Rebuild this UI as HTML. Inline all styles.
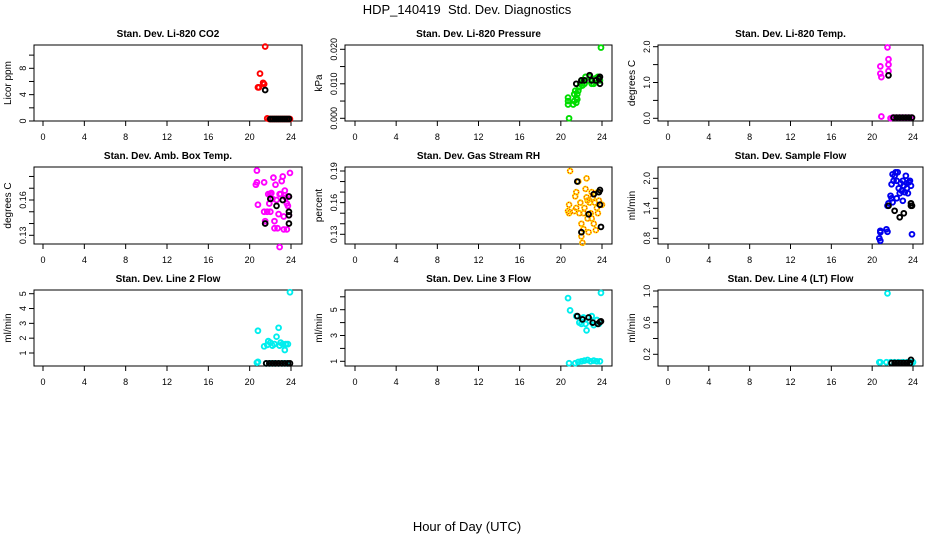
<!DOCTYPE html>
<html><head><meta charset="utf-8"><style>
body{margin:0;background:#fff;}
svg{display:block;font-family:"Liberation Sans",Arial,sans-serif;}
</style></head><body>
<svg id="c" width="936" height="540" xmlns="http://www.w3.org/2000/svg">
<text x="467" y="14" text-anchor="middle" font-size="13">HDP_140419&#160; Std. Dev. Diagnostics</text>
<text x="467" y="531" text-anchor="middle" font-size="13">Hour of Day (UTC)</text>
</svg>
<script>
// ---- data (hour, value) ----
const co2X=[20.8,20.9,21.0,21.3,21.4,21.5,21.7,21.9,22.1,22.3,22.5,22.7,22.9,23.1,23.3,23.5,23.7,23.9];
const co2Y=[5.1,5.1,7.2,5.8,5.6,11.3,0.4,0.3,0.3,0.3,0.3,0.3,0.3,0.3,0.3,0.3,0.3,0.3];
const co2BX=[21.5,22.0,22.2,22.4,22.6,22.8,23.0,23.2,23.4,23.6,23.8];
const co2BY=[4.7,0.3,0.3,0.3,0.3,0.3,0.3,0.3,0.3,0.3,0.3];

const prX=[20.7,20.7,20.7,20.8,21.2,21.3,21.3,21.4,21.5,21.6,21.7,21.8,21.9,22.0,22.2,22.4,22.6,22.8,23.0,23.2,23.4,23.6,23.8,23.9,21.5,21.6,22.1,22.3,23.0,23.3];
const prY=[0.006,0.005,0.004,0.000,0.004,0.005,0.007,0.008,0.006,0.007,0.008,0.009,0.010,0.011,0.011,0.012,0.011,0.012,0.011,0.010,0.011,0.012,0.011,0.0205,0.0045,0.0055,0.0095,0.010,0.010,0.0115];
const prBX=[21.5,22.0,22.3,22.8,23.0,23.4,23.7,23.8,23.8];
const prBY=[0.010,0.011,0.011,0.0125,0.011,0.011,0.0115,0.010,0.012];

const tpX=[20.8,20.8,20.9,20.9,21.5,21.6,21.6,21.6,21.8,22.0,22.3,22.6,22.9,23.2,23.5,23.8];
const tpY=[1.45,1.25,1.15,0.05,1.98,1.65,1.5,1.32,0.0,0.02,0.02,0.02,0.02,0.02,0.02,0.02];
const tpBX=[21.6,22.1,22.4,22.7,23.0,23.3,23.6,23.9];
const tpBY=[1.2,0.02,0.02,0.02,0.02,0.02,0.02,0.02];

const abX=[20.7,20.6,20.7,20.8,21.4,21.4,21.5,21.8,21.9,22.0,22.1,22.2,22.3,22.4,22.4,22.5,22.6,22.7,22.8,22.9,23.0,23.1,23.2,23.3,23.3,23.4,23.5,23.6,23.6,23.7,23.8,23.9,23.7,22.9,22.0,21.7];
const abY=[0.185,0.173,0.175,0.156,0.175,0.150,0.142,0.165,0.157,0.150,0.166,0.161,0.179,0.142,0.136,0.173,0.160,0.136,0.148,0.120,0.165,0.176,0.180,0.146,0.135,0.168,0.162,0.135,0.157,0.155,0.147,0.183,0.163,0.165,0.165,0.150];
const abBX=[21.5,22.0,22.6,23.2,23.8,23.8,23.8,23.8];
const abBY=[0.140,0.161,0.155,0.160,0.163,0.150,0.147,0.140];

const rhX=[20.9,20.7,20.8,20.8,21.4,21.5,21.5,21.7,21.8,22.0,22.0,22.1,22.2,22.3,22.4,22.5,22.6,22.6,22.7,22.8,22.9,23.0,23.1,23.2,23.3,23.4,23.5,23.6,23.7,24.0,21.9,22.2,23.0,23.6,21.3,22.5];
const rhY=[0.190,0.152,0.158,0.150,0.166,0.170,0.155,0.180,0.150,0.140,0.128,0.122,0.135,0.155,0.173,0.183,0.162,0.145,0.132,0.160,0.150,0.145,0.165,0.140,0.160,0.134,0.155,0.170,0.162,0.158,0.160,0.150,0.170,0.150,0.152,0.165];
const rhBX=[21.6,22.0,22.7,23.2,23.7,23.8,23.8,23.9];
const rhBY=[0.180,0.132,0.149,0.168,0.170,0.172,0.158,0.137];

const sfX=[20.7,20.8,20.8,20.8,21.4,21.5,21.5,21.6,21.8,21.9,22.0,21.9,22.0,22.2,22.3,22.4,22.5,22.6,22.7,22.8,22.9,23.0,23.1,23.2,23.3,23.4,23.5,23.6,23.7,23.8,23.9,22.1,22.4,23.0,23.4];
const sfY=[0.80,0.75,0.92,0.95,0.98,0.93,1.45,1.50,1.65,1.60,1.52,1.88,2.08,2.05,2.12,1.95,2.12,1.80,1.70,1.90,1.75,1.55,1.85,1.72,2.05,1.80,1.70,1.92,1.95,1.85,0.88,1.95,1.60,1.95,1.90];
const sfBX=[21.6,22.2,22.7,23.1,23.8,23.8,23.9];
const sfBY=[1.45,1.35,1.22,1.30,1.45,1.50,1.45];

const l2X=[20.7,20.8,20.8,21.4,21.7,21.8,22.0,22.2,22.4,22.6,22.8,22.9,23.0,23.2,23.4,23.5,23.7,23.9,21.6,22.0,22.4,22.8,23.2,23.6];
const l2Y=[0.35,0.4,2.5,1.45,1.55,1.8,1.7,1.5,1.6,2.1,2.7,1.5,1.7,1.6,1.2,1.6,1.6,5.1,0.3,0.3,0.3,0.3,0.3,0.3];
const l2BX=[21.6,21.9,22.2,22.5,22.8,23.1,23.4,23.7,23.9];
const l2BY=[0.3,0.3,0.3,0.3,0.3,0.3,0.3,0.3,0.3];

const l3X=[20.7,20.9,20.8,21.4,21.5,21.8,22.0,22.2,22.4,22.5,22.8,23.0,23.2,23.5,23.7,23.9,21.7,22.0,22.3,22.6,22.9,23.2,23.5,23.8];
const l3Y=[5.9,4.95,0.85,0.85,4.5,4.0,3.9,4.4,3.9,3.4,4.1,4.5,3.8,4.2,3.9,6.3,0.95,1.0,1.05,1.1,1.0,1.05,1.0,1.0];
const l3BX=[21.6,22.1,22.7,23.1,23.6,23.8,23.9];
const l3BY=[4.5,4.25,4.4,4.0,3.9,4.05,4.1];

const l4X=[20.7,20.8,21.5,21.4,21.8,22.2,22.6,23.0,23.4,23.8,24.0];
const l4Y=[0.10,0.10,0.97,0.10,0.10,0.10,0.10,0.10,0.10,0.10,0.10];
const l4BX=[21.9,22.2,22.5,22.8,23.1,23.4,23.7,23.8];
const l4BY=[0.09,0.09,0.09,0.09,0.09,0.09,0.09,0.13];

const xTickVals=[0,4,8,12,16,20,24];

// ---- layout ----
const NS="http://www.w3.org/2000/svg";
const svg=document.getElementById('c');
function el(t,a,p){const e=document.createElementNS(NS,t);for(const k in a)e.setAttribute(k,a[k]);(p||svg).appendChild(e);return e;}
const cols=[{l:34,r:302,x0:43,x24:291},{l:345,r:612,x0:355,x24:602},{l:658,r:923,x0:668,x24:913}];
const rows=[{t:45,b:121},{t:167,b:244},{t:290,b:366}];

const panels=[
 {name:'co2',title:'Stan. Dev. Li-820 CO2',yl:'Licor ppm',c:0,r:0,v1:0,p1:121,v2:8,p2:68.3,ticks:[0,2,4,6,8,10],labs:[0,4,8],fmt:v=>String(v),col:'#ff0000',X:co2X,Y:co2Y,BX:co2BX,BY:co2BY},
 {name:'pressure',title:'Stan. Dev. Li-820 Pressure',yl:'kPa',c:1,r:0,v1:0,p1:118.3,v2:0.02,p2:49.3,ticks:[0,0.005,0.01,0.015,0.02],labs:[0,0.01,0.02],fmt:v=>v.toFixed(3),col:'#00dd00',X:prX,Y:prY,BX:prBX,BY:prBY},
 {name:'temp',title:'Stan. Dev. Li-820 Temp.',yl:'degrees C',c:2,r:0,v1:0,p1:118.3,v2:2,p2:46.7,ticks:[0,0.5,1,1.5,2],labs:[0,1,2],fmt:v=>v.toFixed(1),col:'#ff00ff',X:tpX,Y:tpY,BX:tpBX,BY:tpBY},
 {name:'amb-box-temp',title:'Stan. Dev. Amb. Box Temp.',yl:'degrees C',c:0,r:1,v1:0.13,p1:235.3,v2:0.16,p2:200,ticks:[0.13,0.14,0.15,0.16,0.17,0.18],labs:[0.13,0.16],fmt:v=>v.toFixed(2),col:'#ff00ff',X:abX,Y:abY,BX:abBX,BY:abBY},
 {name:'gas-rh',title:'Stan. Dev. Gas Stream RH',yl:'percent',c:1,r:1,v1:0.13,p1:234.3,v2:0.19,p2:171,ticks:[0.13,0.14,0.15,0.16,0.17,0.18,0.19],labs:[0.13,0.16,0.19],fmt:v=>v.toFixed(2),col:'#ffdd00',dot:'#ff0000',X:rhX,Y:rhY,BX:rhBX,BY:rhBY},
 {name:'sample-flow',title:'Stan. Dev. Sample Flow',yl:'ml/min',c:2,r:1,v1:0.8,p1:238.3,v2:2.0,p2:178.3,ticks:[0.8,1.0,1.2,1.4,1.6,1.8,2.0],labs:[0.8,1.4,2.0],fmt:v=>v.toFixed(1),col:'#0000ee',X:sfX,Y:sfY,BX:sfBX,BY:sfBY},
 {name:'line2-flow',title:'Stan. Dev. Line 2 Flow',yl:'ml/min',c:0,r:2,v1:1,p1:353,v2:5,p2:293.7,ticks:[1,2,3,4,5],labs:[1,2,3,4,5],fmt:v=>String(v),col:'#00eeee',X:l2X,Y:l2Y,BX:l2BX,BY:l2BY},
 {name:'line3-flow',title:'Stan. Dev. Line 3 Flow',yl:'ml/min',c:1,r:2,v1:1,p1:361.3,v2:5,p2:309.7,ticks:[1,2,3,4,5,6],labs:[1,3,5],fmt:v=>String(v),col:'#00eeee',X:l3X,Y:l3Y,BX:l3BX,BY:l3BY},
 {name:'line4-flow',title:'Stan. Dev. Line 4 (LT) Flow',yl:'ml/min',c:2,r:2,v1:0.2,p1:354.3,v2:1.0,p2:291,ticks:[0.2,0.4,0.6,0.8,1.0],labs:[0.2,0.6,1.0],fmt:v=>v.toFixed(1),col:'#00eeee',X:l4X,Y:l4Y,BX:l4BX,BY:l4BY}
];

panels.forEach(p=>{
  const C=cols[p.c],R=rows[p.r];
  const xs=h=>C.x0+(C.x24-C.x0)*h/24;
  const ys=v=>p.p1+(p.p2-p.p1)*(v-p.v1)/(p.v2-p.v1);
  const g=el('g',{});
  
  
  const t=el('text',{x:(C.l+C.r)/2,y:R.t-8,'text-anchor':'middle','font-size':'10','font-weight':'bold'},g);
  t.textContent=p.title;
  
  
  const yl=el('text',{x:0,y:0,'text-anchor':'middle','font-size':'10',transform:`translate(${C.l-23},${(R.t+R.b)/2}) rotate(-90)`},g);
  yl.textContent=p.yl;
  
  
  const box=el('rect',{x:C.l,y:R.t,width:C.r-C.l,height:R.b-R.t,fill:'none',stroke:'#000','stroke-width':'1'},g);
  
  
  xTickVals.forEach(v=>{
    const x=xs(v);
    el('line',{x1:x,x2:x,y1:R.b,y2:R.b+5,stroke:'#000'},g);
    const tl=el('text',{x:x,y:R.b+19,'text-anchor':'middle','font-size':'9'},g);
    tl.textContent=v;
    
    
  });
  p.ticks.forEach(v=>{
    const y=ys(v);
    el('line',{x1:C.l-5,x2:C.l,y1:y,y2:y,stroke:'#000'},g);
  });
  p.labs.forEach(v=>{
    const y=ys(v);
    const tl=el('text',{x:0,y:0,'text-anchor':'middle','font-size':'9',transform:`translate(${C.l-8},${y}) rotate(-90)`},g);
    tl.textContent=p.fmt(v);
    
    
  });
  p.X.forEach((h,i)=>{
    const pt=el('circle',{cx:xs(h),cy:ys(p.Y[i]),r:2.4,fill:'none',stroke:p.col,'stroke-width':'1.9'},g);
    
    
    if(p.dot){el('circle',{cx:xs(h),cy:ys(p.Y[i]),r:2.4,fill:'none',stroke:p.dot,'stroke-width':'0.9','stroke-dasharray':'1 1.5'},g);}
  });
  p.BX.forEach((h,i)=>{
    const pt=el('circle',{cx:xs(h),cy:ys(p.BY[i]),r:2.4,fill:'none',stroke:'#000','stroke-width':'1.9'},g);
    
    
  });
});
</script>
</body></html>
